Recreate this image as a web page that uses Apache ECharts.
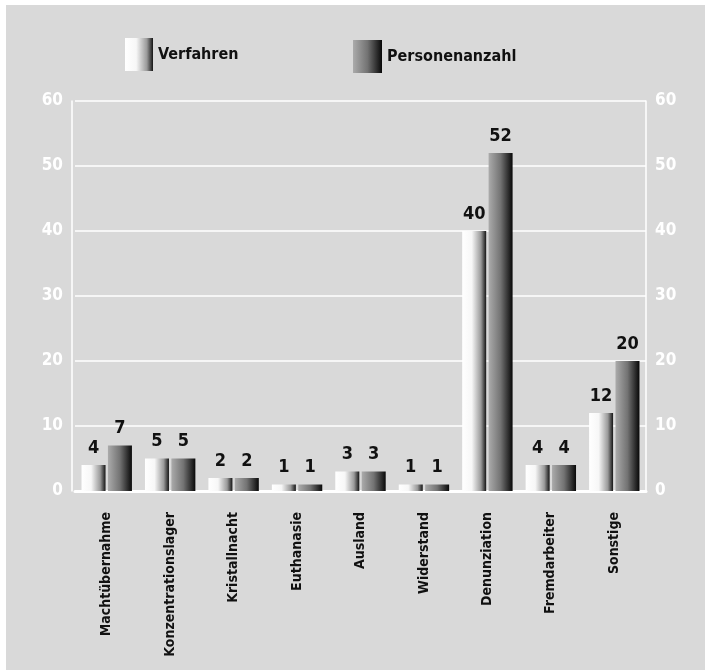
<!DOCTYPE html>
<html>
<head>
<meta charset="utf-8">
<script src="https://cdn.jsdelivr.net/npm/echarts@6/dist/echarts.min.js"></script>
<style>
  html, body { margin: 0; padding: 0; background: #ffffff; overflow: hidden; }
  #frame { position: absolute; left: 6px; top: 5px; width: 699px; height: 665px; background: #d9d9d9; }
  #chart { position: absolute; left: 0; top: 0; width: 705px; height: 670px; }
</style>
</head>
<body>
<div id="frame"></div>
<div id="chart"></div>
<script>
// Kategorien der Verfahren und zugehörige Werte
const categories = ['Machtübernahme', 'Konzentrationslager', 'Kristallnacht', 'Euthanasie',
  'Ausland', 'Widerstand', 'Denunziation', 'Fremdarbeiter', 'Sonstige'];
const verfahren = [4, 5, 2, 1, 3, 1, 40, 4, 12];
const personenanzahl = [7, 5, 2, 1, 3, 1, 52, 4, 20];
const yTicks = { min: 0, max: 60, interval: 10 };

const FONT = "'Liberation Sans Narrow', 'DejaVu Sans Condensed', 'Roboto Condensed', sans-serif";

const gradLight = new echarts.graphic.LinearGradient(0, 0, 1, 0, [
  { offset: 0, color: '#ffffff' },
  { offset: 0.4, color: '#f7f7f7' },
  { offset: 0.78, color: '#9a9a9a' },
  { offset: 1, color: '#141414' }
]);
const gradDark = new echarts.graphic.LinearGradient(0, 0, 1, 0, [
  { offset: 0, color: '#ababab' },
  { offset: 0.5, color: '#737373' },
  { offset: 1, color: '#080808' }
]);

const valueLabel = {
  show: true, position: 'top', distance: 8,
  color: '#111', fontFamily: FONT, fontWeight: 'bold', fontSize: 18
};

const yAxisBase = {
  type: 'value', min: yTicks.min, max: yTicks.max, interval: yTicks.interval,
  axisLine: { show: true, lineStyle: { color: '#ffffff', width: 1.5 } },
  axisTick: { show: false },
  splitLine: { show: true, lineStyle: { color: '#ffffff', width: 1.5 } },
  axisLabel: { color: '#ffffff', fontFamily: FONT, fontWeight: 'bold', fontSize: 17, margin: 9 }
};

const legendText = { color: '#111', fontFamily: FONT, fontWeight: 'bold', fontSize: 16 };

const chart = echarts.init(document.getElementById('chart'), null, { renderer: 'canvas' });
chart.setOption({
  backgroundColor: 'transparent',
  animation: false,
  legend: [
    { data: ['Verfahren'], left: 125, top: 38, padding: 0, itemWidth: 28, itemHeight: 33, itemGap: 0,
      itemTextGap: 15, textStyle: legendText, icon: 'rect' },
    { data: ['Personenanzahl'], left: 353, top: 40, padding: 0, itemWidth: 29, itemHeight: 33, itemGap: 0,
      itemTextGap: 13, textStyle: legendText, icon: 'rect' }
  ],
  grid: { left: 75, right: 59, top: 101, bottom: 179, containLabel: false },
  xAxis: {
    type: 'category', data: categories,
    axisLine: { show: true, lineStyle: { color: '#ffffff', width: 3 } },
    axisTick: { show: false },
    axisLabel: { interval: 0, rotate: 90, margin: 21, color: '#111',
      fontFamily: FONT, fontWeight: 'bold', fontSize: 14 }
  },
  yAxis: [
    Object.assign({}, yAxisBase, { position: 'left', offset: 3 }),
    Object.assign({}, yAxisBase, { position: 'right', splitLine: { show: false } })
  ],
  series: [
    { name: 'Verfahren', type: 'bar', data: verfahren, barWidth: 24, barGap: '10%',
      itemStyle: { color: gradLight }, label: valueLabel },
    { name: 'Personenanzahl', type: 'bar', data: personenanzahl, barWidth: 24, barGap: '10%',
      itemStyle: { color: gradDark }, label: valueLabel }
  ]
});
</script>
</body>
</html>
